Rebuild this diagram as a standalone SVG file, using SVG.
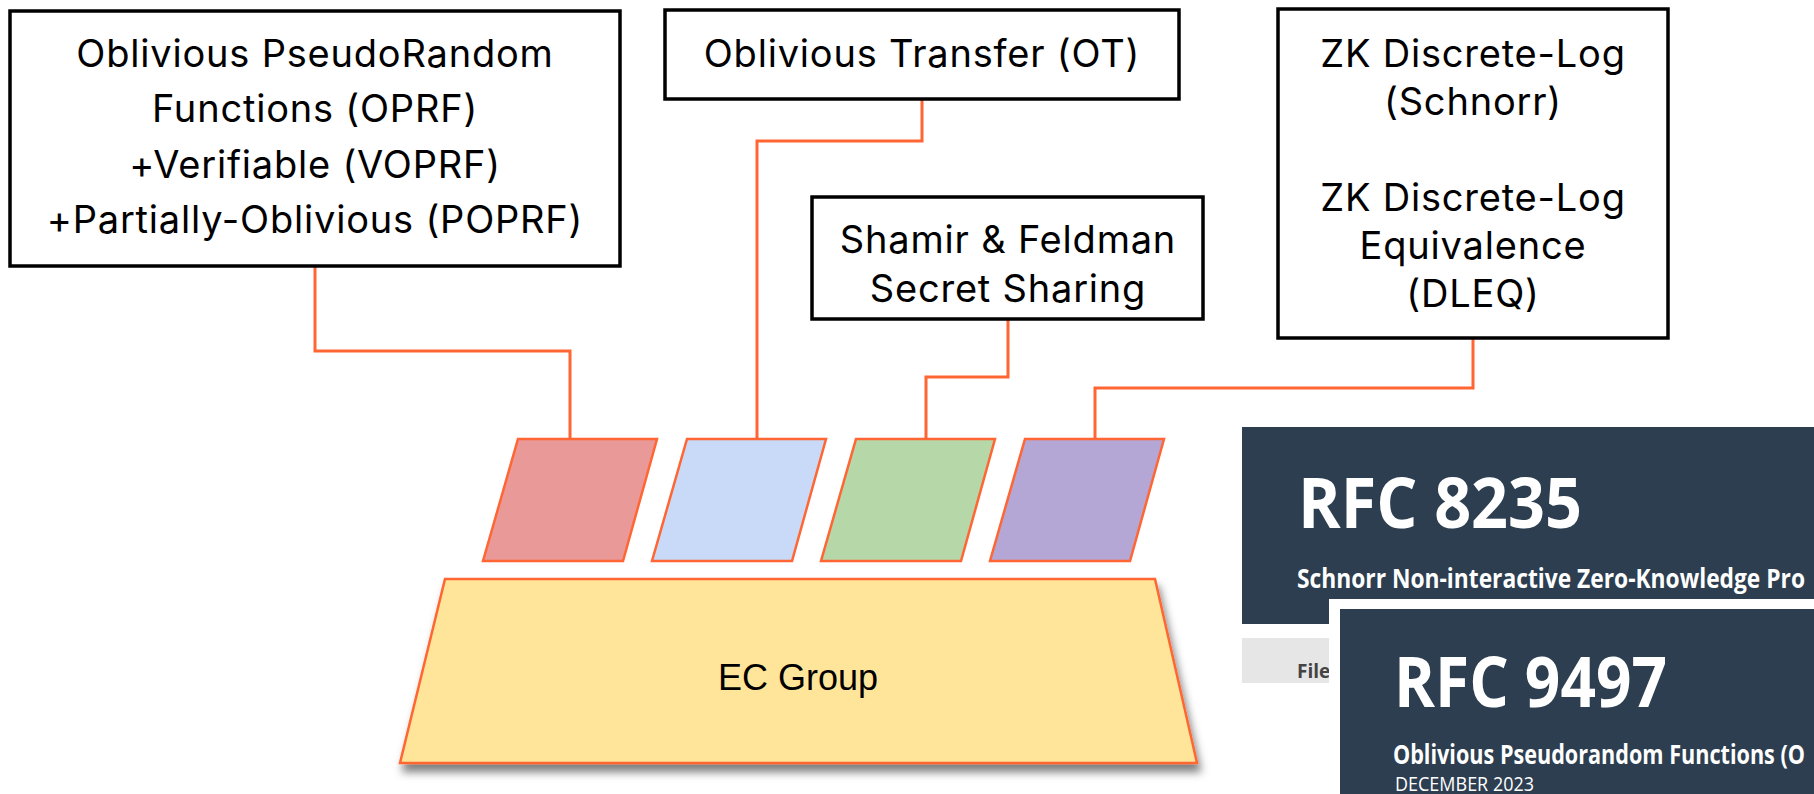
<svg xmlns="http://www.w3.org/2000/svg" width="1814" height="794" viewBox="0 0 1814 794">
<defs>
<style>
.box{fill:#fff;stroke:#000;stroke-width:3.5}
.lbl{font-family:Inter,"Noto Sans",sans-serif;font-size:38px;letter-spacing:0.8px;fill:#000;text-anchor:middle}
.conn{fill:none;stroke:#FF6633;stroke-width:3}
.par{stroke:#FF6633;stroke-width:2.5;stroke-linejoin:miter}
.rfc{font-family:"Open Sans","Noto Sans",sans-serif;fill:#fff}
</style>
<filter id="sh" x="-10%" y="-10%" width="120%" height="130%">
<feDropShadow dx="3" dy="8" stdDeviation="4" flood-color="#000" flood-opacity="0.5"/>
</filter>
</defs>
<rect width="1814" height="794" fill="#fff"/>

<g id="connectors">
<polyline class="conn" points="315,266 315,351 570,351 570,439"/>
<polyline class="conn" points="922,99 922,141 757,141 757,439"/>
<polyline class="conn" points="1008,319 1008,377 926,377 926,439"/>
<polyline class="conn" points="1473,338 1473,388 1095,388 1095,439"/>
</g>

<g id="oprf">
<rect class="box" x="10" y="11" width="610" height="255"/>
<text class="lbl" x="315" y="67">Oblivious PseudoRandom</text>
<text class="lbl" x="315" y="122">Functions (OPRF)</text>
<text class="lbl" x="315" y="178">+Verifiable (VOPRF)</text>
<text class="lbl" x="315" y="233">+Partially-Oblivious (POPRF)</text>
</g>

<g id="ot">
<rect class="box" x="665" y="10" width="514" height="89"/>
<text class="lbl" x="922" y="67">Oblivious Transfer (OT)</text>
</g>

<g id="shamir">
<rect class="box" x="812" y="197" width="391" height="122"/>
<text class="lbl" x="1008" y="253">Shamir &amp; Feldman</text>
<text class="lbl" x="1008" y="302">Secret Sharing</text>
</g>

<g id="zk">
<rect class="box" x="1278" y="9" width="390" height="329"/>
<text class="lbl" x="1473" y="67">ZK Discrete-Log</text>
<text class="lbl" x="1473" y="115">(Schnorr)</text>
<text class="lbl" x="1473" y="211">ZK Discrete-Log</text>
<text class="lbl" x="1473" y="259">Equivalence</text>
<text class="lbl" x="1473" y="307">(DLEQ)</text>
</g>

<g id="p-oprf"><polygon class="par" fill="#EA9999" points="518,439 657,439 623,561 483,561"/></g>
<g id="p-ot"><polygon class="par" fill="#C9DAF8" points="687,439 826,439 792,561 652,561"/></g>
<g id="p-ss"><polygon class="par" fill="#B6D7A8" points="856,439 995,439 961,561 821,561"/></g>
<g id="p-zk"><polygon class="par" fill="#B4A7D6" points="1025,439 1164,439 1130,561 990,561"/></g>

<g id="ecgroup">
<polygon filter="url(#sh)" fill="#FFE599" stroke="#FF6633" stroke-width="2.5" points="445,579 1155,579 1197,763 400,763"/>
<text x="798" y="690" font-family="'Liberation Sans',Arial,sans-serif" font-size="36" text-anchor="middle" fill="#000">EC Group</text>
</g>

<g id="rfc8235">
<rect x="1242" y="427" width="572" height="197" fill="#2c3e50"/>
<text class="rfc" x="1298" y="528" font-size="70" font-weight="700" textLength="284" lengthAdjust="spacingAndGlyphs">RFC 8235</text>
<text class="rfc" x="1297" y="588" font-size="26" font-weight="700" textLength="508" lengthAdjust="spacingAndGlyphs">Schnorr Non-interactive Zero-Knowledge Pro</text>
<rect x="1242" y="638" width="100" height="45" fill="#e6e6e6"/>
<text x="1297" y="678" font-family="'Open Sans','Noto Sans',sans-serif" font-size="19" font-weight="700" fill="#444">File</text>
</g>

<g id="rfc9497">
<rect x="1329" y="599" width="485" height="195" fill="#fff"/>
<rect x="1340" y="609" width="474" height="185" fill="#2c3e50"/>
<text class="rfc" x="1394" y="707" font-size="70" font-weight="700" textLength="273" lengthAdjust="spacingAndGlyphs">RFC 9497</text>
<text class="rfc" x="1393" y="764" font-size="26" font-weight="700" textLength="412" lengthAdjust="spacingAndGlyphs">Oblivious Pseudorandom Functions (O</text>
<text class="rfc" x="1395" y="791" font-size="20" fill="#d6dbe0" textLength="139" lengthAdjust="spacingAndGlyphs">DECEMBER 2023</text>
</g>
</svg>
